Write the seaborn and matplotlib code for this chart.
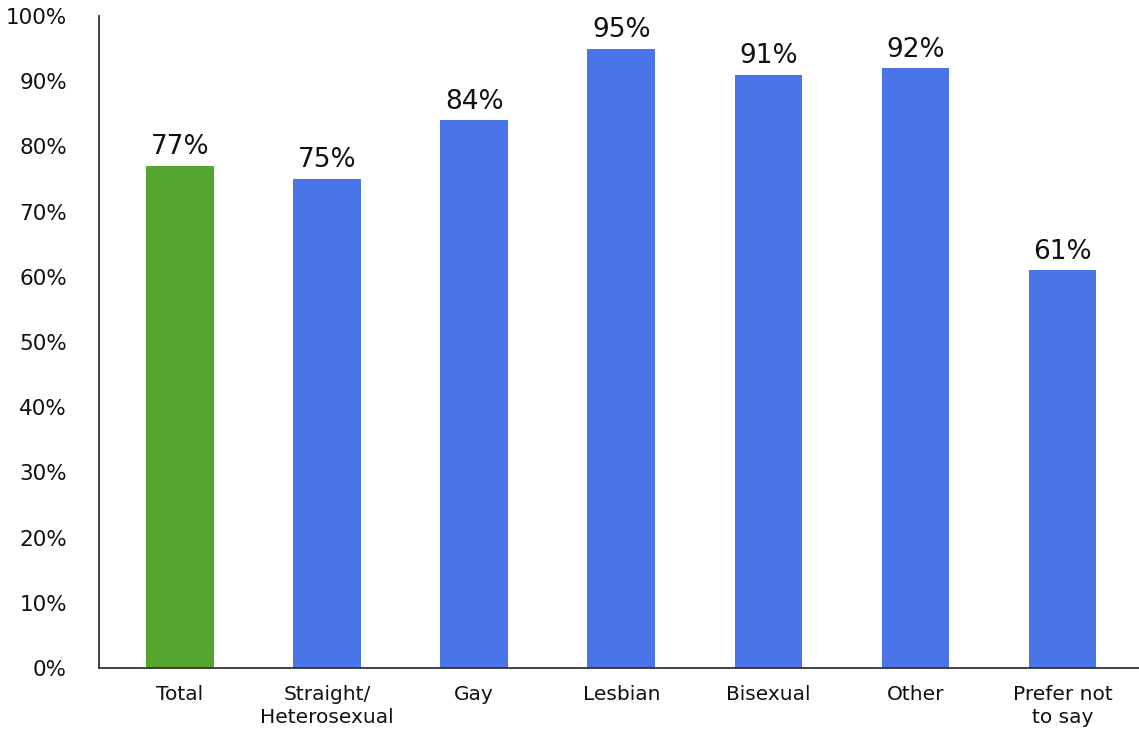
import matplotlib
matplotlib.use("Agg")
import matplotlib.pyplot as plt
from matplotlib.ticker import FuncFormatter
import seaborn as sns
import pandas as pd

categories = ["Total", "Straight/\nHeterosexual", "Gay", "Lesbian", "Bisexual", "Other", "Prefer not\nto say"]
values = [77, 75, 84, 95, 91, 92, 61]
colors = ["#55A530", "#4B74E8", "#4B74E8", "#4B74E8", "#4B74E8", "#4B74E8", "#4B74E8"]
y_ticks = [0, 10, 20, 30, 40, 50, 60, 70, 80, 90, 100]

sns.set_theme(style="white")
plt.rcParams["font.family"] = ["DejaVu Sans"]

df = pd.DataFrame({"category": categories, "value": values})

fig = plt.figure(figsize=(11.39, 7.31), dpi=100)
ax = fig.add_axes([99 / 1139, 1 - 668 / 731, 1 - 99 / 1139, 652 / 731])

sns.barplot(data=df, x="category", y="value", hue="category",
            palette=colors, legend=False, width=0.46, saturation=1,
            linewidth=0, ax=ax)

for c in ax.containers:
    ax.bar_label(c, fmt="%.0f%%", padding=4, fontsize=19, color="#111111")

ax.set_ylim(0, 100)
ax.set_xlim(-0.551, 6.52)
ax.set_yticks(y_ticks)
ax.yaxis.set_major_formatter(FuncFormatter(lambda v, _: f"{v:.0f}%"))
ax.set_xlabel("")
ax.set_ylabel("")

ax.tick_params(axis="y", direction="in", length=5, width=1.2, color="#333333",
               labelsize=15.5, labelcolor="#111111", pad=23)
ax.tick_params(axis="x", length=0, labelsize=14.5, labelcolor="#111111", pad=12)
for lab in ax.get_xticklabels():
    lab.set_linespacing(1.3)

for side in ["top", "right"]:
    ax.spines[side].set_visible(False)
for side in ["left", "bottom"]:
    ax.spines[side].set_color("#333333")
    ax.spines[side].set_linewidth(1.3)

fig.savefig("out.png", dpi=100)
